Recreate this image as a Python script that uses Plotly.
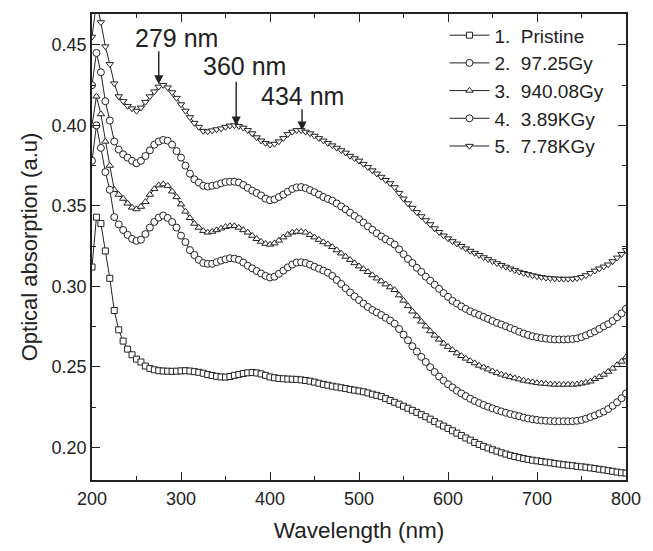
import plotly.graph_objects as go

wavelength = list(range(200, 805, 5))

pristine = [
    0.312, 0.343, 0.339, 0.322, 0.305, 0.285, 0.273, 0.266, 0.261, 0.2575,
    0.2548, 0.253, 0.2505, 0.249, 0.2482, 0.2476, 0.2474, 0.2473, 0.2472, 0.2473,
    0.2475, 0.2476, 0.2474, 0.247, 0.2466, 0.246, 0.2452, 0.2446, 0.2441, 0.2437,
    0.2436, 0.244, 0.2447, 0.2453, 0.2459, 0.2463, 0.2465, 0.2462, 0.2456, 0.2447,
    0.2437, 0.2432, 0.2428, 0.2426, 0.2424, 0.2423, 0.2422, 0.2419, 0.2415, 0.2411,
    0.2405, 0.2398, 0.2391, 0.2386, 0.238, 0.2375, 0.237, 0.2365, 0.236, 0.2355,
    0.235, 0.2345, 0.2338, 0.233, 0.2323, 0.2315, 0.2303, 0.2291, 0.228, 0.2268,
    0.2255, 0.2243, 0.223, 0.2217, 0.2203, 0.219, 0.2175, 0.216, 0.2145, 0.2132,
    0.2118, 0.2103, 0.2088, 0.2073, 0.2058, 0.2045, 0.203, 0.2018, 0.2006, 0.1996,
    0.1985, 0.1976, 0.1966, 0.1958, 0.195, 0.1943, 0.1936, 0.193, 0.1925, 0.192,
    0.1916, 0.1912, 0.1908, 0.1904, 0.19, 0.1896, 0.1892, 0.1889, 0.1886, 0.1882,
    0.1879, 0.1876, 0.1872, 0.1868, 0.1864, 0.186, 0.1855, 0.1851, 0.1846, 0.1842,
    0.184,
]

gy_97 = [
    0.425, 0.445, 0.433, 0.415, 0.403, 0.390, 0.385, 0.382, 0.380, 0.378,
    0.3765, 0.378, 0.381, 0.3845, 0.388, 0.390, 0.391, 0.3905, 0.388, 0.384,
    0.380, 0.375, 0.370, 0.3665, 0.3645, 0.3625, 0.362, 0.3625, 0.363, 0.364,
    0.3648, 0.365, 0.365, 0.3645, 0.363, 0.3612, 0.3595, 0.358, 0.3565, 0.3545,
    0.3535, 0.354, 0.3555, 0.357, 0.3588, 0.3605, 0.3615, 0.3617, 0.361, 0.3598,
    0.3585, 0.357, 0.3555, 0.3543, 0.3532, 0.3515, 0.3497, 0.3478, 0.3458, 0.3438,
    0.3418, 0.3396, 0.3373, 0.3352, 0.333, 0.331, 0.3293, 0.3278, 0.326, 0.323,
    0.320, 0.317, 0.3145, 0.3115, 0.309, 0.306, 0.3035, 0.301, 0.2985, 0.2958,
    0.2935, 0.291, 0.2893, 0.2875, 0.286, 0.2845, 0.2833, 0.2822, 0.281, 0.2798,
    0.2785, 0.2773, 0.2763, 0.2752, 0.2741, 0.273, 0.2718, 0.2707, 0.2698, 0.269,
    0.2684, 0.2679, 0.2675, 0.2672, 0.267, 0.267, 0.267, 0.2671, 0.2673, 0.2677,
    0.2685, 0.2695, 0.2708, 0.272, 0.2735, 0.2752, 0.2765, 0.2785, 0.2808, 0.2832,
    0.286,
]

gy_940 = [
    0.400, 0.418, 0.407, 0.390, 0.375, 0.360, 0.357, 0.3545, 0.3515, 0.349,
    0.348, 0.3495, 0.3525, 0.357, 0.3605, 0.3628, 0.3635, 0.3625, 0.359, 0.3555,
    0.351, 0.3465, 0.3425, 0.339, 0.3365, 0.3345, 0.3335, 0.334, 0.335, 0.336,
    0.337, 0.3375, 0.3375, 0.3365, 0.335, 0.3335, 0.3315, 0.3295, 0.3278, 0.3265,
    0.326, 0.3268, 0.3285, 0.3305, 0.3322, 0.3335, 0.334, 0.334, 0.3335, 0.332,
    0.3305, 0.329, 0.3275, 0.3262, 0.3245, 0.3225, 0.3205, 0.3185, 0.3165, 0.3145,
    0.3125, 0.3108, 0.309, 0.307, 0.305, 0.3032, 0.3013, 0.2995, 0.2978, 0.2945,
    0.2912, 0.2878, 0.2845, 0.2815, 0.2782, 0.2752, 0.2722, 0.2695, 0.267, 0.2645,
    0.2625, 0.2605, 0.2585, 0.2568, 0.2552, 0.2537, 0.2523, 0.2508, 0.2497, 0.2485,
    0.2473, 0.2463, 0.2453, 0.2445, 0.2437, 0.243, 0.2423, 0.2415, 0.241, 0.2405,
    0.240, 0.2397, 0.2395, 0.2392, 0.239, 0.239, 0.239, 0.239, 0.239, 0.2392,
    0.2397, 0.2403, 0.241, 0.2425, 0.2437, 0.2452, 0.247, 0.249, 0.2512, 0.2533,
    0.256,
]

kgy_389 = [
    0.378, 0.400, 0.386, 0.371, 0.360, 0.343, 0.3385, 0.335, 0.332, 0.3295,
    0.3283, 0.329, 0.3325, 0.3365, 0.340, 0.3427, 0.344, 0.3425, 0.340, 0.3365,
    0.3315, 0.3275, 0.3225, 0.3195, 0.3165, 0.3145, 0.314, 0.314, 0.315, 0.316,
    0.3168, 0.3175, 0.3172, 0.3165, 0.3148, 0.3128, 0.3112, 0.3095, 0.308, 0.3065,
    0.3055, 0.306, 0.3078, 0.3098, 0.3118, 0.3135, 0.3148, 0.315, 0.3145, 0.3135,
    0.3122, 0.311, 0.3098, 0.3085, 0.3065, 0.304, 0.3015, 0.2988, 0.2962, 0.2938,
    0.2915, 0.2893, 0.2872, 0.2853, 0.2838, 0.2822, 0.2805, 0.2788, 0.2768, 0.2735,
    0.270, 0.2665, 0.2628, 0.2595, 0.2562, 0.253, 0.2498, 0.2468, 0.244, 0.2415,
    0.2392, 0.2372, 0.2352, 0.2335, 0.2318, 0.2302, 0.2288, 0.2275, 0.2263, 0.2252,
    0.2242, 0.2232, 0.2223, 0.2215, 0.2207, 0.220, 0.2193, 0.2185, 0.2179, 0.2174,
    0.217, 0.2167, 0.2165, 0.2163, 0.2162, 0.2162, 0.2162, 0.2162, 0.2162, 0.2165,
    0.217, 0.2178, 0.2188, 0.2198, 0.221, 0.2222, 0.2238, 0.2258, 0.228, 0.2305,
    0.2335,
]

kgy_778 = [
    0.455, 0.476, 0.464, 0.449, 0.438, 0.426, 0.418, 0.415, 0.412, 0.4105,
    0.409, 0.411, 0.4145, 0.418, 0.421, 0.424, 0.425, 0.4235, 0.4205, 0.417,
    0.413, 0.409, 0.405, 0.4015, 0.399, 0.3965, 0.3962, 0.3968, 0.3975, 0.398,
    0.399, 0.3998, 0.400, 0.3995, 0.3985, 0.397, 0.395, 0.3925, 0.3905, 0.389,
    0.388, 0.3885, 0.390, 0.392, 0.3945, 0.396, 0.397, 0.397, 0.396, 0.395,
    0.3935, 0.392, 0.3905, 0.389, 0.3875, 0.386, 0.3845, 0.383, 0.381, 0.3795,
    0.378, 0.376, 0.374, 0.372, 0.370, 0.368, 0.366, 0.364, 0.3615, 0.358,
    0.3545, 0.3515, 0.3487, 0.346, 0.3435, 0.341, 0.3385, 0.336, 0.3337, 0.3315,
    0.3297, 0.328, 0.3265, 0.325, 0.3235, 0.322, 0.3207, 0.3194, 0.318, 0.3168,
    0.3155, 0.3143, 0.3132, 0.3121, 0.311, 0.310, 0.309, 0.3082, 0.3075, 0.3068,
    0.3062, 0.3057, 0.3053, 0.305, 0.3048, 0.3047, 0.3046, 0.3046, 0.3047, 0.305,
    0.3057, 0.3068, 0.3082, 0.3097, 0.311, 0.3122, 0.3135, 0.3155, 0.3178, 0.320,
    0.3225,
]

series_names = ["1.\u00a0 Pristine", "2.\u00a0 97.25Gy", "3.\u00a0 940.08Gy",
                "4.\u00a0 3.89KGy", "5.\u00a0 7.78KGy"]
series_symbols = ["square", "circle", "triangle-up", "circle", "triangle-down"]
series_values = [pristine, gy_97, gy_940, kgy_389, kgy_778]

peak_labels = ["279 nm", "360 nm", "434 nm"]
peak_arrow_x = [275, 362, 436]
peak_arrow_tip = [0.4255, 0.3998, 0.3968]
peak_arrow_tail = [0.447, 0.428, 0.411]
peak_text_x = [295, 371, 437]
peak_text_y = [0.4542, 0.4368, 0.418]

INK = "#222222"
FONT = "Liberation Sans, Arial, sans-serif"
MARKER_SIZE = {"square": 6, "circle": 7, "triangle-up": 6.5, "triangle-down": 6.5}

fig = go.Figure()
for name, sym, vals in zip(series_names, series_symbols, series_values):
    fig.add_trace(go.Scatter(
        x=wavelength, y=vals, name=name, mode="lines+markers",
        line=dict(color=INK, width=1),
        marker=dict(symbol=sym, size=MARKER_SIZE[sym], color="white",
                    line=dict(color=INK, width=1)),
    ))

for lab, ax_, tip, tail, tx, ty in zip(peak_labels, peak_arrow_x, peak_arrow_tip,
                                       peak_arrow_tail, peak_text_x, peak_text_y):
    fig.add_annotation(x=ax_, y=tip, ax=ax_, ay=tail, axref="x", ayref="y",
                       xref="x", yref="y", text="", showarrow=True,
                       arrowhead=2, arrowsize=1.3, arrowwidth=1.4, arrowcolor=INK)
    fig.add_annotation(x=tx, y=ty, xref="x", yref="y", text=lab, showarrow=False,
                       font=dict(family=FONT, size=25, color=INK))

axis_common = dict(
    showline=True, linecolor=INK, linewidth=1.5, mirror="ticks",
    ticks="inside", ticklen=8, tickwidth=1.2, tickcolor=INK,
    showgrid=False, zeroline=False, ticklabeloverflow="allow",
    tickfont=dict(family=FONT, size=18, color=INK),
)

fig.update_xaxes(
    range=[200, 800], dtick=100, tick0=200,
    minor=dict(ticks="inside", ticklen=4, dtick=50, tickcolor=INK, showgrid=False),
    title=dict(text="Wavelength (nm)", font=dict(family=FONT, size=22.5, color=INK), standoff=14),
    ticklabelstandoff=2,
    **axis_common,
)
fig.update_yaxes(
    range=[0.1797, 0.4692], dtick=0.05, tick0=0.2, tickformat=".2f",
    minor=dict(ticks="inside", ticklen=4, dtick=0.025, tickcolor=INK, showgrid=False),
    title=dict(text="Optical absorption (a.u)", font=dict(family=FONT, size=22, color=INK), standoff=8),
    **axis_common,
)

fig.update_layout(
    width=653, height=551,
    margin=dict(l=92, r=18, t=13, b=55),
    plot_bgcolor="white", paper_bgcolor="white",
    font=dict(family=FONT, color=INK),
    legend=dict(x=0.66, y=0.995, xanchor="left", yanchor="top",
                bgcolor="rgba(0,0,0,0)", font=dict(family=FONT, size=19, color=INK),
                itemwidth=40, tracegroupgap=0),
    showlegend=True,
)

fig.write_html(
    "out.html",
    config={"displayModeBar": False},
    post_script="document.body.style.margin='0px';document.body.style.overflow='hidden';",
)
